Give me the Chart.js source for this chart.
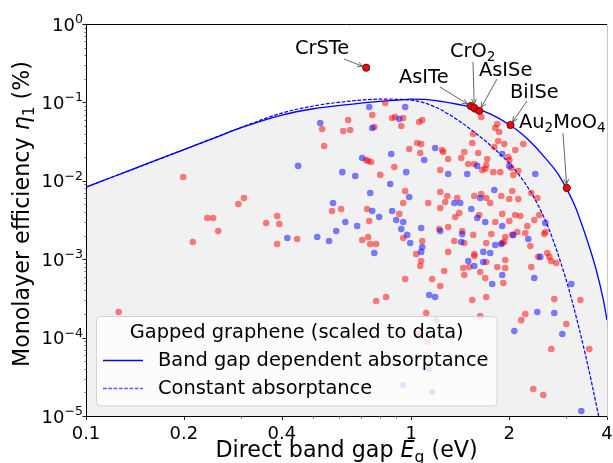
<!DOCTYPE html>
<html><head><meta charset="utf-8">
<script src="https://cdn.jsdelivr.net/npm/chart.js@4.4.0/dist/chart.umd.min.js"></script>
<style>html,body{margin:0;padding:0;background:#fff;overflow:hidden}#wrap{width:613px;height:463px}</style>
</head><body><div id="wrap"><canvas id="c" width="613" height="463"></canvas></div>
<script>
// ---------- data ----------
const bandE   = [0.1,0.12,0.15,0.2,0.25,0.3,0.4,0.5,0.65,0.8,0.93,1.0,1.1,1.25,1.4,1.55,1.75,2.0,2.2,2.4,2.6,2.8,3.0,3.2,3.5,3.7,3.9,4.0];
const bandEta = [8.3e-3,0.0111,0.0158,0.0250,0.0356,0.0476,0.069,0.083,0.0946,0.103,0.108,0.110,0.109,0.102,0.094,0.086,0.0715,0.0523,0.0390,0.0276,0.0189,0.0130,8.0e-3,4.6e-3,1.6e-3,7.5e-4,3.0e-4,1.67e-4];
const constE   = [0.1,0.12,0.15,0.2,0.25,0.3,0.4,0.5,0.65,0.8,0.93,1.0,1.1,1.2,1.27,1.4,1.5,1.71,1.95,2.09,2.24,2.41,2.64,2.98,3.12,3.43,3.77,3.9];
const constEta = [8.3e-3,0.0111,0.0158,0.0250,0.0358,0.048,0.073,0.090,0.104,0.110,0.109,0.107,0.0982,0.0854,0.0754,0.0585,0.0476,0.0309,0.01875,0.01363,9.31e-3,5.66e-3,2.54e-3,5.87e-4,2.98e-4,6.14e-5,9.93e-6,4.72e-6];

const redE = [0.126,0.199,0.306,0.294,0.236,0.246,0.255,0.213,0.358,0.387,0.393,0.446,0.387,0.571,0.609,
  0.532,0.540,0.618,0.640,0.649,0.832,0.759,0.770,0.874,0.893,0.945,0.932,1.058,1.081,0.727,0.737,0.753,
  0.986,1.043,1.073,1.066,0.803,0.887,0.958,0.945,1.642,1.839,1.813,1.552,1.865,1.541,1.852,1.933,1.801,
  1.245,1.254,1.456,1.607,2.089,2.211,1.299,1.425,1.989,2.003,1.713,1.498,1.563,1.701,1.689,1.654,2.031,
  1.228,1.788,1.878,2.060,2.134,1.228,1.291,2.045,1.385,1.563,1.642,1.701,1.892,2.134,2.340,2.442,2.003,
  1.272,0.732,0.743,0.919,0.945,0.737,0.707,0.748,0.780,1.081,1.036,1.073,1.066,0.958,0.837,0.780,1.128,
  1.228,1.405,1.366,1.750,1.619,1.813,1.905,2.089,2.165,2.003,2.275,2.390,2.476,2.584,2.566,1.299,1.220,
  1.435,1.552,1.763,1.946,1.905,2.119,2.243,2.045,2.324,1.357,1.456,1.701,1.933,1.299,1.563,1.563,2.459,
  2.621,2.658,2.696,2.794,1.701,1.946,1.445,1.509,1.839,1.946,2.340,1.263,1.630,1.456,1.689,1.919,1.160,
  1.228,1.541,1.701,2.754,3.311,2.243,2.180,2.999,2.696,3.529,2.373,2.548,1.112,1.194,1.630,1.051,1.120];
const redEta = [2.12e-4,0.0112,6.04e-3,5.06e-3,3.36e-3,3.36e-3,2.29e-3,1.66e-3,2.90e-3,3.56e-3,2.81e-3,1.81e-3,1.56e-3,4.12e-3,4.37e-3,
  0.0458,0.0278,0.0432,0.0597,0.0445,0.0982,0.0690,0.0485,0.0632,0.0652,0.0632,0.0500,0.0562,0.0597,0.0184,0.0179,0.0174,
  0.0255,0.0303,0.0294,0.0226,0.0119,0.0150,7.41e-3,5.21e-3,0.0652,0.0530,0.0471,0.0395,0.0419,0.0303,0.0322,0.0294,0.0270,
  0.0247,0.0233,0.0233,0.0226,0.0247,0.0294,0.0190,0.0195,0.0201,0.0184,0.0190,0.0164,0.0164,0.0159,0.0142,0.0137,0.0146,
  0.0137,0.0129,0.0129,0.0119,0.0133,7.19e-3,6.40e-3,7.41e-3,6.04e-3,6.40e-3,6.79e-3,6.04e-3,6.40e-3,5.86e-3,6.98e-3,6.04e-3,5.86e-3,
  5.37e-3,4.37e-3,3.07e-3,3.78e-3,1.86e-3,1.92e-3,1.76e-3,1.56e-3,1.56e-3,1.71e-3,1.16e-3,9.48e-4,8.18e-4,5.58e-4,3.30e-4,2.93e-4,5.21e-3,
  4.50e-3,3.88e-3,3.45e-3,5.21e-3,3.66e-3,2.98e-3,3.78e-3,3.66e-3,3.56e-3,3.07e-3,2.65e-3,3.16e-3,3.66e-3,2.22e-3,2.09e-3,2.58e-3,2.43e-3,
  2.29e-3,2.04e-3,2.09e-3,1.92e-3,1.61e-3,2.22e-3,2.16e-3,2.04e-3,1.47e-3,1.71e-3,1.61e-3,1.61e-3,1.66e-3,1.24e-3,1.16e-3,1.10e-3,1.07e-3,
  1.20e-3,1.07e-3,9.48e-4,8.95e-4,9.20e-4,9.77e-4,7.73e-4,7.96e-4,7.96e-4,7.73e-4,7.96e-4,7.06e-4,6.87e-4,6.28e-4,5.75e-4,4.97e-4,5.58e-4,
  4.55e-4,3.02e-4,3.30e-4,3.10e-4,3.02e-4,2.00e-4,1.67e-4,1.49e-4,7.16e-5,7.16e-5,2.21e-5,1.85e-5,2.06e-4,1.67e-4,1.89e-4,1.11e-4,8.79e-5];

const blueE = [0.449,0.416,0.514,0.559,0.575,0.588,0.627,0.525,0.614,0.743,0.958,0.759,0.919,0.707,0.868,1.096,
  0.673,0.965,0.862,0.748,0.986,1.185,1.905,1.596,2.003,1.299,1.487,2.407,1.801,1.630,1.357,1.415,0.682,0.759,
  0.797,0.874,0.899,0.945,0.932,0.972,0.993,0.770,1.073,1.081,1.073,1.136,1.530,1.596,1.689,2.584,1.905,1.228,
  1.435,2.060,2.291,1.425,1.813,1.892,1.666,1.750,2.494,1.498,1.666,1.563,1.905,1.775,2.390,1.185,3.107,2.754,
  2.442,2.915,2.075,3.335,1.136,0.945,1.160,1.58];
const blueEta = [0.0155,1.86e-3,1.92e-3,1.71e-3,5.21e-3,2.29e-3,2.98e-3,0.0546,0.0129,0.0873,0.0873,0.0471,0.0614,0.0195,0.0220,0.0184,
  0.0115,0.0129,9.10e-3,6.98e-3,6.21e-3,0.0262,0.0220,0.0155,0.0155,0.0122,0.0122,0.0122,7.64e-3,6.04e-3,5.21e-3,5.21e-3,2.65e-3,4.12e-3,
  3.45e-3,4.12e-3,3.16e-3,2.98e-3,2.43e-3,2.04e-3,1.61e-3,1.20e-3,2.50e-3,1.43e-3,1.24e-3,3.49e-4,4.37e-3,3.36e-3,2.98e-3,2.90e-3,2.65e-3,2.29e-3,
  2.09e-3,2.04e-3,1.81e-3,1.66e-3,1.52e-3,1.56e-3,1.24e-3,1.20e-3,1.07e-3,9.48e-4,9.20e-4,8.18e-4,6.28e-4,4.83e-4,5.75e-4,3.30e-4,4.83e-4,2.06e-4,
  2.12e-4,1.11e-4,1.21e-4,1.16e-5,3.97e-5,2.48e-5,2.02e-5,0.080];

const labelNames = ['CrSTe','AsITe','CrO2','AsISe','BiISe','Au2MoO4'];
const labelE     = [0.727,1.524,1.563,1.62,2.02,3.01];
const labelEta   = [0.277,0.090,0.085,0.078,0.0515,0.0081];

const xTickValues = [0.1,0.2,0.4,1,2,4];
const xTickLabels = ['0.1','0.2','0.4','1','2','4'];
const xMinorValues = [0.3,0.5,0.6,0.7,0.8,0.9,3];
const yTickExps = [0,-1,-2,-3,-4,-5];

const legendTitle = 'Gapped graphene (scaled to data)';
const legendLabels = ['Band gap dependent absorptance','Constant absorptance'];

// ---------- layout / style ----------
const FONT = '"DejaVu Sans", sans-serif';
const annTextPos = [[295,54],[399,83],[450,57],[479,76],[510,98],[519,128]];
const annStartFor = {CrSTe:[344,59], AsITe:[440,87], CrO2:[473,62], AsISe:[497,79], BiISe:[527,101], Au2MoO4:[563,133]};

function pts(xs, ys){ return xs.map((v,i)=>({x:v, y:ys[i]})); }

function drawParts(ctx, parts, x, y, align){
  let w = 0;
  parts.forEach(p=>{ ctx.font = `${p.style||''} ${p.size}px ${FONT}`; p.w = ctx.measureText(p.t).width; w += p.w; });
  let cx = align==='center' ? x - w/2 : (align==='right' ? x - w : x);
  ctx.textAlign = 'left'; ctx.textBaseline = 'alphabetic';
  parts.forEach(p=>{ ctx.font = `${p.style||''} ${p.size}px ${FONT}`; ctx.fillText(p.t, cx, y + (p.dy||0)); cx += p.w; });
  return w;
}
function formulaParts(name, size){
  const out = [];
  name.split(/(\d+)/).filter(s=>s.length).forEach(s=>{
    if (/^\d+$/.test(s)) out.push({t:s, size:size*0.7, dy:size*0.2});
    else out.push({t:s, size:size});
  });
  return out;
}
function arrow(ctx, sx, sy, ex, ey){
  const ang = Math.atan2(ey-sy, ex-sx);
  const shrink = 3.5;
  const tx = ex - Math.cos(ang)*shrink, ty = ey - Math.sin(ang)*shrink;
  ctx.beginPath(); ctx.moveTo(sx, sy); ctx.lineTo(tx, ty); ctx.stroke();
  const hl = 6, ha = 0.42;
  ctx.beginPath();
  ctx.moveTo(tx - hl*Math.cos(ang-ha), ty - hl*Math.sin(ang-ha));
  ctx.lineTo(tx, ty);
  ctx.lineTo(tx - hl*Math.cos(ang+ha), ty - hl*Math.sin(ang+ha));
  ctx.stroke();
}

const annPlugin = {
  id:'ann',
  afterDatasetsDraw(chart){
    const {ctx, scales:{x, y}} = chart;
    ctx.save();
    ctx.strokeStyle = '#555'; ctx.lineWidth = 0.9;
    labelNames.forEach((name,i)=>{
      const px = x.getPixelForValue(labelE[i]), py = y.getPixelForValue(labelEta[i]);
      const s = annStartFor[name];
      arrow(ctx, s[0], s[1], px, py);
    });
    ctx.fillStyle = '#000';
    labelNames.forEach((name,i)=>{
      drawParts(ctx, formulaParts(name, 19.4), annTextPos[i][0], annTextPos[i][1], 'left');
    });
    ctx.restore();
  }
};

const frame = {
  id:'frame',
  afterDraw(chart){
    const {ctx, chartArea:a, scales:{x, y}} = chart;
    ctx.save();
    // legend
    const lx=96.5, ly=316.5, lw=400.5, lh=89.5, r=4;
    ctx.beginPath();
    ctx.moveTo(lx+r, ly); ctx.lineTo(lx+lw-r, ly); ctx.arcTo(lx+lw, ly, lx+lw, ly+r, r);
    ctx.lineTo(lx+lw, ly+lh-r); ctx.arcTo(lx+lw, ly+lh, lx+lw-r, ly+lh, r);
    ctx.lineTo(lx+r, ly+lh); ctx.arcTo(lx, ly+lh, lx, ly+lh-r, r);
    ctx.lineTo(lx, ly+r); ctx.arcTo(lx, ly, lx+r, ly, r); ctx.closePath();
    ctx.fillStyle = 'rgba(255,255,255,0.8)'; ctx.fill();
    ctx.strokeStyle = 'rgba(204,204,204,0.8)'; ctx.lineWidth = 1; ctx.stroke();
    ctx.fillStyle = '#000';
    ctx.font = `19.4px ${FONT}`; ctx.textAlign = 'center'; ctx.textBaseline = 'middle';
    ctx.fillText(legendTitle, lx + lw/2, 333);
    ctx.textAlign = 'left';
    ctx.fillText(legendLabels[0], 158, 361);
    ctx.fillText(legendLabels[1], 158, 389);
    ctx.lineWidth = 1.4; ctx.strokeStyle = '#0a0ad8';
    ctx.beginPath(); ctx.moveTo(103, 360.5); ctx.lineTo(143, 360.5); ctx.stroke();
    ctx.setLineDash([3.7,1.6]); ctx.strokeStyle = '#5a5aff';
    ctx.beginPath(); ctx.moveTo(103, 388.5); ctx.lineTo(143, 388.5); ctx.stroke();
    ctx.setLineDash([]);

    // spines
    ctx.lineWidth = 1; ctx.strokeStyle = '#000';
    ctx.beginPath();
    ctx.moveTo(a.left+0.5, a.top); ctx.lineTo(a.left+0.5, a.bottom+0.5);
    ctx.lineTo(a.right, a.bottom+0.5);
    ctx.moveTo(a.left, a.top+0.5); ctx.lineTo(a.right, a.top+0.5);
    ctx.stroke();
    ctx.strokeStyle = '#c8c8c8';
    ctx.beginPath(); ctx.moveTo(a.right+0.5, a.top); ctx.lineTo(a.right+0.5, a.bottom); ctx.stroke();

    // ticks
    ctx.strokeStyle = '#000';
    ctx.lineWidth = 0.9;
    ctx.beginPath();
    xTickValues.forEach(v=>{ const px = Math.round(x.getPixelForValue(v))+0.5; ctx.moveTo(px, a.bottom+0.5); ctx.lineTo(px, a.bottom+4); });
    yTickExps.forEach(k=>{ const py = Math.round(y.getPixelForValue(Math.pow(10,k)))+0.5; ctx.moveTo(a.left+0.5, py); ctx.lineTo(a.left-3.5, py); });
    ctx.stroke();
    ctx.lineWidth = 0.6;
    ctx.beginPath();
    xMinorValues.forEach(v=>{ const px = Math.round(x.getPixelForValue(v))+0.5; ctx.moveTo(px, a.bottom+0.5); ctx.lineTo(px, a.bottom+2.5); });
    for (let k=-5; k<0; k++) for (let m=2; m<10; m++){
      const py = Math.round(y.getPixelForValue(m*Math.pow(10,k)))+0.5;
      ctx.moveTo(a.left+0.5, py); ctx.lineTo(a.left-1.5, py);
    }
    ctx.stroke();

    // tick labels
    ctx.fillStyle = '#000';
    ctx.font = `18px ${FONT}`; ctx.textAlign = 'center'; ctx.textBaseline = 'alphabetic';
    xTickValues.forEach((v,i)=>{ ctx.fillText(xTickLabels[i], x.getPixelForValue(v), 439); });
    yTickExps.forEach(k=>{
      const py = y.getPixelForValue(Math.pow(10,k));
      const e = k===0 ? '0' : '\u2212' + Math.abs(k);
      drawParts(ctx, [{t:'10', size:18},{t:e, size:12.6, dy:-7.5}], 83, py+6.5, 'right');
    });

    // axis titles
    drawParts(ctx, [{t:'Direct band gap ', size:22.2},{t:'E', size:22.2, style:'italic'},{t:'g', size:15.5, dy:4.5},{t:' (eV)', size:22.2}], (a.left+a.right)/2, 457, 'center');
    ctx.save();
    ctx.translate(29, 214); ctx.rotate(-Math.PI/2);
    drawParts(ctx, [{t:'Monolayer efficiency ', size:22.2},{t:'\u03B7', size:22.2, style:'italic'},{t:'1', size:15.5, dy:4.5},{t:' (%)', size:22.2}], 0, 0, 'center');
    ctx.restore();
    ctx.restore();
  }
};

new Chart(document.getElementById('c'), {
  type:'scatter',
  data:{ datasets:[
    { type:'line', label:'band', data:pts(bandE, bandEta), borderColor:'#0000ff', borderWidth:1.3, pointRadius:0,
      fill:'start', backgroundColor:'#f1f1f1', cubicInterpolationMode:'monotone', order:10 },
    { type:'line', label:'const', data:pts(constE, constEta), borderColor:'#0000ff', borderWidth:1.2, borderDash:[3.7,1.6], pointRadius:0,
      fill:false, cubicInterpolationMode:'monotone', order:9 },
    { label:'red', data:pts(redE, redEta), backgroundColor:'rgba(255,0,0,0.5)', borderWidth:0, pointRadius:3.3, order:6 },
    { label:'blue', data:pts(blueE, blueEta), backgroundColor:'rgba(0,0,255,0.5)', borderWidth:0, pointRadius:3.3, order:5 },
    { label:'labelled', data:pts(labelE, labelEta), backgroundColor:'#ff0000', borderColor:'#3a0000', borderWidth:0.8, pointRadius:3.6, order:1 }
  ]},
  options:{
    responsive:false, animation:false, devicePixelRatio:1,
    layout:{padding:{left:86, right:6, top:24, bottom:47}},
    scales:{
      x:{type:'logarithmic', min:0.1, max:4, display:false},
      y:{type:'logarithmic', min:1e-5, max:1, display:false}
    },
    plugins:{legend:{display:false}, tooltip:{enabled:false}}
  },
  plugins:[annPlugin, frame]
});
</script></body></html>
